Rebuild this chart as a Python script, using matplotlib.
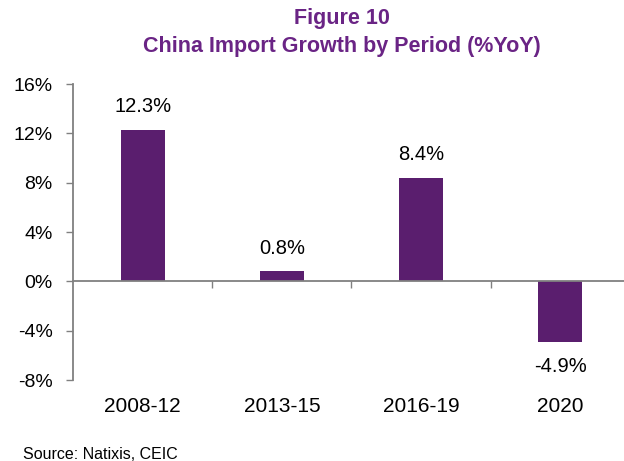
import matplotlib
matplotlib.use("Agg")
import matplotlib.pyplot as plt
from matplotlib.ticker import FuncFormatter

# data
periods = ["2008-12", "2013-15", "2016-19", "2020"]
growth = [12.3, 0.8, 8.4, -4.9]
value_labels = ["12.3%", "0.8%", "8.4%", "-4.9%"]
y_ticks = [-8, -4, 0, 4, 8, 12, 16]

PURPLE = "#5A1E6E"
TITLE_PURPLE = "#6A2485"
GREY = "#808080"

plt.rcParams["font.family"] = ["Liberation Sans", "DejaVu Sans"]

fig = plt.figure(figsize=(6.24, 4.61), dpi=100)
ax = fig.add_axes([0.117, 0.1757, 0.8926, 0.642])

x = list(range(len(periods)))
ax.bar(x, growth, width=0.315, color=PURPLE, zorder=2)

ax.set_xlim(-0.5, len(periods) - 0.5)
ax.set_ylim(-8, 16)
ax.set_yticks(y_ticks)
ax.yaxis.set_major_formatter(FuncFormatter(lambda v, _: f"{v:.0f}%"))
ax.tick_params(axis="y", direction="out", length=5, width=1, color=GREY,
               labelsize=14, pad=9.5)

# x axis sits on zero, with ticks between categories
ax.spines["bottom"].set_position(("data", 0))
ax.set_xticks([i + 0.5 for i in x[:-1]])
ax.set_xticklabels([])
ax.tick_params(axis="x", direction="out", length=5, width=1, color=GREY)
for s in ("top", "right"):
    ax.spines[s].set_visible(False)
for s in ("left", "bottom"):
    ax.spines[s].set_color(GREY)
    ax.spines[s].set_linewidth(1.3)

# category names below the plot area
for xi, name in zip(x, periods):
    ax.text(xi, -0.088, name, transform=ax.get_xaxis_transform(),
            ha="center", va="center", fontsize=15)

# value labels
for xi, v, lab in zip(x, growth, value_labels):
    off = 23 if v >= 0 else -25
    ax.annotate(lab, (xi, v), xytext=(0, off * 0.72), textcoords="offset points",
                ha="center", va="center", fontsize=14.5)

fig.text(0.548, 0.960, "Figure 10", ha="center", va="center",
         fontsize=15.5, fontweight="bold", color=TITLE_PURPLE)
fig.text(0.548, 0.900, "China Import Growth by Period (%YoY)", ha="center",
         va="center", fontsize=15.5, fontweight="bold", color=TITLE_PURPLE)
fig.text(23 / 624, 0.015, "Source: Natixis, CEIC", ha="left", va="center",
         fontsize=11.5)

fig.savefig("out.png", dpi=100)
